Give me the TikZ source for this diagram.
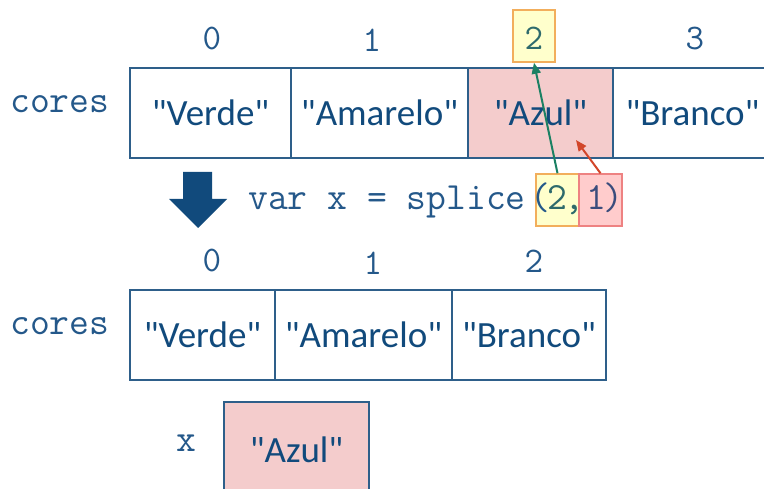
\documentclass[tikz,border=0pt]{standalone}
\usepackage{fontspec}
\newfontfamily\calfont{Carlito}[Ligatures=TeXOff]
\newcommand\codefont{\ttfamily}
\usetikzlibrary{arrows.meta}

\definecolor{txtblue}{HTML}{114A7C}
\definecolor{edgeblue}{HTML}{2E5F8A}
\definecolor{codeblue}{HTML}{24588A}
\definecolor{cellpink}{HTML}{F4CCCC}
\definecolor{hiyellow}{HTML}{FFFFCC}
\definecolor{hiorange}{HTML}{F2AE5C}
\definecolor{hipink}{HTML}{FFCCCC}
\definecolor{hired}{HTML}{EE8282}
\definecolor{arrowgreen}{HTML}{1B8063}
\definecolor{arrowred}{HTML}{D2462A}
\definecolor{tealtext}{HTML}{2E6A6C}
\definecolor{argtext}{HTML}{3A4C7C}

\begin{document}
\begin{tikzpicture}[x=1pt,y=-1pt,
  cell/.style={draw=edgeblue, line width=2pt, inner sep=0pt, minimum height=90pt,
    text=txtblue, font=\calfont\fontsize{37}{37}\selectfont,
    text height=25.5pt, text depth=0pt},
  idx/.style={anchor=base, inner sep=0pt, text=codeblue,
    font=\codefont\fontsize{36}{36}\selectfont},
  code/.style={anchor=base west, inner sep=0pt, text=codeblue,
    font=\codefont\fontsize{38.5}{38.5}\selectfont},
  hlyellow/.style={draw=hiorange, fill=hiyellow, line width=1.5pt, inner sep=0pt},
  hlpink/.style={draw=hired, fill=hipink, line width=1.5pt, inner sep=0pt},
  pointer/.style={line width=2pt, -{Triangle[length=11pt,width=9pt]}}
]
\clip (0,0) rectangle (764,489);
\fill[white] (0,0) rectangle (764,489);

% top array: indices
\node[idx] (ti0) at (212,50) {0};
\node[idx] (ti1) at (372,52) {1};
\node[hlyellow, minimum width=42pt, minimum height=52pt, text=tealtext,
  font=\codefont\fontsize{36}{36}\selectfont, text height=28pt, text depth=0pt]
  (ti2) at (534,36) {2};
\node[idx] (ti3) at (695,50) {3};

% top array: cells
\node[code] (lbl1) at (10,113) {cores};
\node[cell, minimum width=161pt] (t0) at (210.5,113) {"Verde"};
\node[cell, minimum width=177pt] (t1) at (379.5,113) {"Amarelo"};
\node[cell, minimum width=145pt, fill=cellpink] (t2) at (540.5,113) {"Azul"};
\node[cell, minimum width=159pt] (t3) at (692.5,113) {"Branco"};

% operation: arrow, highlighted arguments and the call
\fill[txtblue] (183,172) -- (212,172) -- (212,199) -- (227,199) -- (198,228)
  -- (169,199) -- (183,199) -- cycle;
\node[hlyellow, minimum width=43pt, minimum height=52pt] (argA) at (557.5,200) {};
\node[hlpink, minimum width=43pt, minimum height=52pt] (argB) at (600.5,200) {};
\node[code] (op) at (248,210) {var x = splice\kern5pt(\kern-3pt\textcolor{tealtext}{2\kern-3.2pt,}\kern2.8pt\textcolor{argtext}{1\kern-3.5pt)}};

\coordinate (rtip) at (576,140);
\draw[pointer, arrowgreen] (argA.north) -- (ti2.south);
\draw[pointer, arrowred] (argB.north) -- (rtip);

% bottom array: indices
\node[idx] (bi0) at (212,272) {0};
\node[idx] (bi1) at (373,275) {1};
\node[idx] (bi2) at (534,273) {2};

% bottom array: cells
\node[code] (lbl2) at (10,335) {cores};
\node[cell, minimum width=145pt] (b0) at (202.5,335) {"Verde"};
\node[cell, minimum width=177pt] (b1) at (363.5,335) {"Amarelo"};
\node[cell, minimum width=154pt] (b2) at (529,335) {"Branco"};

% removed element
\node[code, anchor=base] (lbl3) at (186,451) {x};
\node[cell, minimum width=145pt, minimum height=96pt, fill=cellpink] (rx) at (296.5,450) {"Azul"};
\end{tikzpicture}
\end{document}
